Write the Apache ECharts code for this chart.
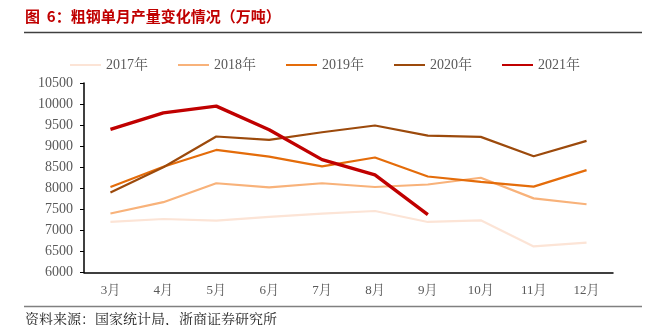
<!DOCTYPE html>
<html><head><meta charset="utf-8">
<script src="https://cdn.jsdelivr.net/npm/echarts@6/dist/echarts.min.js"></script>
<style>html,body{margin:0;padding:0;background:#fff}#c{width:659px;height:325px}</style>
</head><body><div id="c"></div>
<script>
const categories = ['3月','4月','5月','6月','7月','8月','9月','10月','11月','12月'];
const yTickMin = 6000, yTickMax = 10500, yTickStep = 500;
const s2017 = [7200, 7270, 7230, 7320, 7400, 7460, 7200, 7240, 6620, 6710];
const s2018 = [7400, 7670, 8120, 8020, 8120, 8030, 8090, 8250, 7760, 7620];
const s2019 = [8030, 8510, 8910, 8750, 8520, 8730, 8280, 8150, 8040, 8430];
const s2020 = [7900, 8500, 9230, 9150, 9330, 9490, 9250, 9220, 8760, 9125];
const s2021 = [9400, 9790, 9950, 9390, 8680, 8320, 7375];
const seriesNames = ['2017年','2018年','2019年','2020年','2021年'];

const chart = echarts.init(document.getElementById('c'));
const serif = '"Liberation Serif", "Times New Roman", "Noto Serif CJK SC", "Noto Sans CJK SC", serif';
function mk(name, data, color, width) {
  return { name, type: 'line', data, symbol: 'none', smooth: false,
    lineStyle: { color, width }, itemStyle: { color }, z: width > 2.5 ? 5 : 2 };
}
chart.setOption({
  animation: false,
  grid: { left: 84, right: 46, top: 83, bottom: 52.5 },
  legend: {
    left: 64, top: 53, itemWidth: 31, itemHeight: 14, itemGap: 29,
    itemStyle: { opacity: 0 },
    textStyle: { fontFamily: serif, fontSize: 14, color: '#595959' },
    data: seriesNames
  },
  xAxis: {
    type: 'category', data: categories, boundaryGap: true,
    axisLine: { lineStyle: { color: '#000', width: 1.5 } },
    axisTick: { show: false },
    axisLabel: { fontFamily: serif, fontSize: 13, color: '#595959', margin: 12 }
  },
  yAxis: {
    type: 'value', min: yTickMin, max: yTickMax, interval: yTickStep,
    axisLine: { show: true, lineStyle: { color: '#000', width: 1.5 } },
    axisTick: { show: true, length: 4, lineStyle: { color: '#000' } },
    splitLine: { show: false },
    axisLabel: { fontFamily: serif, fontSize: 14, color: '#595959', margin: 11,
      formatter: v => String(v) }
  },
  series: [
    mk(seriesNames[0], s2017, '#FCE4D6', 2.2),
    mk(seriesNames[1], s2018, '#F8B27A', 2.2),
    mk(seriesNames[2], s2019, '#E46C0A', 2.2),
    mk(seriesNames[3], s2020, '#9C4A0C', 2.2),
    mk(seriesNames[4], s2021, '#C00000', 3.4)
  ],
  graphic: [
    { type: 'text', left: 25, top: 9, style: { text: '图  6：粗钢单月产量变化情况（万吨）',
      font: 'bold 15px "Noto Sans CJK SC", sans-serif', fill: '#C00000' } },
    { type: 'line', shape: { x1: 24, y1: 32.5, x2: 642, y2: 32.5 }, style: { stroke: '#404040', lineWidth: 1.5 } },
    { type: 'line', shape: { x1: 24, y1: 306.5, x2: 642, y2: 306.5 }, style: { stroke: '#808080', lineWidth: 1.5 } },
    { type: 'text', left: 25, top: 312, style: { text: '资料来源：国家统计局，浙商证券研究所',
      font: '14px "Noto Serif CJK SC", "Noto Sans CJK SC", serif', fill: '#222' } }
  ]
});
</script></body></html>
